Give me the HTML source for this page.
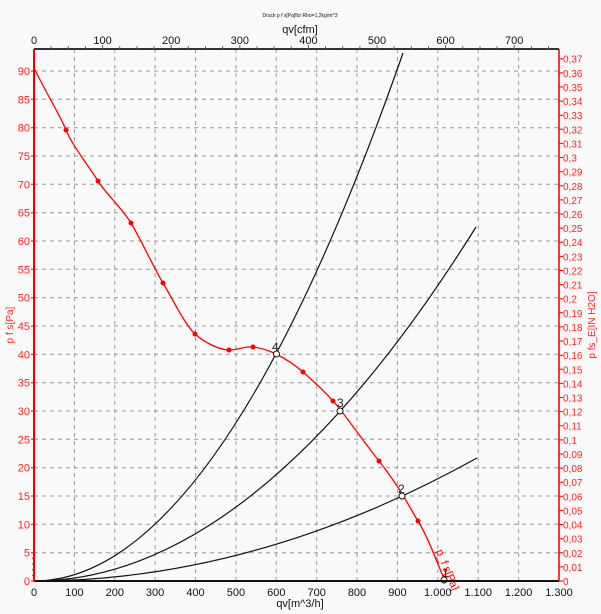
<!DOCTYPE html><html><head><meta charset="utf-8"><style>body{margin:0;background:#f9f9f9}svg{display:block}text{font-family:"Liberation Sans",sans-serif}</style></head><body>
<svg width="601" height="614" viewBox="0 0 601 614">
<rect width="601" height="614" fill="#f9f9f9"/>
<g stroke="#999" stroke-dasharray="4,4" stroke-width="1">
<path d="M74.4 49V581M114.8 49V581M155.1 49V581M195.5 49V581M235.9 49V581M276.3 49V581M316.7 49V581M357 49V581M397.4 49V581M437.8 49V581M478.2 49V581M518.6 49V581"/>
<path d="M34 552.7H559M34 524.3H559M34 496H559M34 467.7H559M34 439.3H559M34 411H559M34 382.7H559M34 354.3H559M34 326H559M34 297.7H559M34 269.3H559M34 241H559M34 212.7H559M34 184.3H559M34 156H559M34 127.7H559M34 99.3H559M34 71H559"/>
</g>
<!-- system curves -->
<g fill="none" stroke="#111" stroke-width="1.2">
<path d="M34 581 Q218.5 581 403 53"/>
<path d="M34 581 Q255 581 476 227"/>
<path d="M34 581 Q255.5 581 477 458"/>
</g>
<!-- fan curve -->
<path fill="none" stroke="#f00" stroke-width="1.3" d="M35 70 C50 100,60 115,66 130 S90 168,98 181 S122 208,131 223 S155 270,163 283 S185 325,195 334 S220 350,229 350 S245 346,253 347 S268 350,276 354 S295 365,303 372 S325 392,334 402 S355 430,379 461 S408 505,418 521 S438 565,445 581"/>
<g fill="#f00"><circle cx="66" cy="130" r="2.5"/><circle cx="98" cy="181" r="2.5"/><circle cx="131" cy="223" r="2.5"/><circle cx="163" cy="283" r="2.5"/><circle cx="195" cy="334" r="2.5"/><circle cx="229" cy="350" r="2.5"/><circle cx="253" cy="347" r="2.5"/><circle cx="303" cy="372" r="2.5"/><circle cx="333" cy="401" r="2.5"/><circle cx="379" cy="461" r="2.5"/><circle cx="418" cy="521" r="2.5"/></g>
<g fill="#fff" stroke="#111" stroke-width="1"><circle cx="276.5" cy="354" r="3"/><circle cx="340" cy="411" r="3"/><circle cx="402" cy="496" r="3"/><circle cx="444" cy="580" r="3"/></g>
<g font-size="12" fill="#222"><text x="272" y="351">4</text><text x="337" y="407">3</text><text x="398" y="493">2</text><text x="442" y="577">1</text></g>
<text x="436" y="551" font-size="11" fill="#f00" transform="rotate(68 436 551)">p_f s[Pa]</text>
<!-- axes -->
<line x1="34" y1="49" x2="559" y2="49" stroke="#333" stroke-width="2"/>
<line x1="34" y1="581" x2="559" y2="581" stroke="#111" stroke-width="2"/>
<line x1="34" y1="49" x2="34" y2="581" stroke="#e00" stroke-width="2"/>
<line x1="559" y1="49" x2="559" y2="581" stroke="#e00" stroke-width="1.5"/>
<g stroke="#e00" stroke-width="1"><path d="M34 581h-3M34 575.3h-2M34 569.7h-2M34 564h-2M34 558.3h-2M34 552.7h-3M34 524.3h-3M34 496h-3M34 467.7h-3M34 439.3h-3M34 411h-3M34 382.7h-3M34 354.3h-3M34 326h-3M34 297.7h-3M34 269.3h-3M34 241h-3M34 212.7h-3M34 184.3h-3M34 156h-3M34 127.7h-3M34 99.3h-3M34 71h-3"/>
<path d="M559 581h4M559 566.9h4M559 552.8h4M559 538.7h4M559 524.5h4M559 510.4h4M559 496.3h4M559 482.2h4M559 468.1h4M559 454h4M559 439.9h4M559 425.7h4M559 411.6h4M559 397.5h4M559 383.4h4M559 369.3h4M559 355.2h4M559 341h4M559 326.9h4M559 312.8h4M559 298.7h4M559 284.6h4M559 270.5h4M559 256.4h4M559 242.2h4M559 228.1h4M559 214h4M559 199.9h4M559 185.8h4M559 171.7h4M559 157.5h4M559 143.4h4M559 129.3h4M559 115.2h4M559 101.1h4M559 87h4M559 72.9h4M559 58.7h4"/></g>
<g stroke="#666"><path d="M51 49v-3M68.3 49v-3M85.4 49v-3M102.6 49v-4M119.7 49v-3M136.9 49v-3M154 49v-3M171.2 49v-4M188.3 49v-3M205.5 49v-3M222.6 49v-3M239.8 49v-4M257 49v-3M274 49v-3M291.2 49v-3M308.4 49v-4M325.5 49v-3M342.7 49v-3M359.9 49v-3M377 49v-4M394 49v-3M411.3 49v-3M428.5 49v-3M445.6 49v-4M462.8 49v-3M480 49v-3M497 49v-3M514.2 49v-4M531.4 49v-3M548.5 49v-3"/></g>
<!-- left labels -->
<g font-size="11" fill="#f22" text-anchor="end"><text x="30" y="585">0</text><text x="30" y="556.7">5</text><text x="30" y="528.3">10</text><text x="30" y="500">15</text><text x="30" y="471.7">20</text><text x="30" y="443.3">25</text><text x="30" y="415">30</text><text x="30" y="386.7">35</text><text x="30" y="358.3">40</text><text x="30" y="330">45</text><text x="30" y="301.7">50</text><text x="30" y="273.3">55</text><text x="30" y="245">60</text><text x="30" y="216.7">65</text><text x="30" y="188.3">70</text><text x="30" y="160">75</text><text x="30" y="131.7">80</text><text x="30" y="103.3">85</text><text x="30" y="75">90</text></g>
<!-- right labels -->
<g font-size="10" fill="#f22"><text x="563" y="585">0</text><text x="563" y="570.9">0,01</text><text x="563" y="556.8">0,02</text><text x="563" y="542.7">0,03</text><text x="563" y="528.5">0,04</text><text x="563" y="514.4">0,05</text><text x="563" y="500.3">0,06</text><text x="563" y="486.2">0,07</text><text x="563" y="472.1">0,08</text><text x="563" y="458">0,09</text><text x="563" y="443.9">0,1</text><text x="563" y="429.7">0,11</text><text x="563" y="415.6">0,12</text><text x="563" y="401.5">0,13</text><text x="563" y="387.4">0,14</text><text x="563" y="373.3">0,15</text><text x="563" y="359.2">0,16</text><text x="563" y="345">0,17</text><text x="563" y="330.9">0,18</text><text x="563" y="316.8">0,19</text><text x="563" y="302.7">0,2</text><text x="563" y="288.6">0,21</text><text x="563" y="274.5">0,22</text><text x="563" y="260.4">0,23</text><text x="563" y="246.2">0,24</text><text x="563" y="232.1">0,25</text><text x="563" y="218">0,26</text><text x="563" y="203.9">0,27</text><text x="563" y="189.8">0,28</text><text x="563" y="175.7">0,29</text><text x="563" y="161.5">0,3</text><text x="563" y="147.4">0,31</text><text x="563" y="133.3">0,32</text><text x="563" y="119.2">0,33</text><text x="563" y="105.1">0,34</text><text x="563" y="91">0,35</text><text x="563" y="76.9">0,36</text><text x="563" y="62.7">0,37</text></g>
<!-- bottom labels -->
<g font-size="11" fill="#111" text-anchor="middle"><text x="34" y="596">0</text><text x="74.4" y="596">100</text><text x="114.8" y="596">200</text><text x="155.1" y="596">300</text><text x="195.5" y="596">400</text><text x="235.9" y="596">500</text><text x="276.3" y="596">600</text><text x="316.7" y="596">700</text><text x="357" y="596">800</text><text x="397.4" y="596">900</text><text x="437.8" y="596">1.000</text><text x="478.2" y="596">1.100</text><text x="518.6" y="596">1.200</text><text x="559" y="596">1.300</text>
<text x="300" y="607">qv[m^3/h]</text></g>
<!-- top labels -->
<g font-size="11" fill="#111" text-anchor="middle"><text x="34" y="44">0</text><text x="102.6" y="44">100</text><text x="171.2" y="44">200</text><text x="239.8" y="44">300</text><text x="308.4" y="44">400</text><text x="377" y="44">500</text><text x="445.6" y="44">600</text><text x="514.2" y="44">700</text>
<text x="300" y="33">qv[cfm]</text><text x="300" y="17" font-size="5">Druck p f s[Pa]für Rho=1,2kg/m^3</text></g>
<text x="13" y="325" font-size="10" fill="#f22" text-anchor="middle" transform="rotate(-90 13 325)">p f s[Pa]</text>
<text x="595" y="325" font-size="10" fill="#f22" text-anchor="middle" transform="rotate(-90 595 325)">p fs_E[IN H2O]</text>
</svg></body></html>
